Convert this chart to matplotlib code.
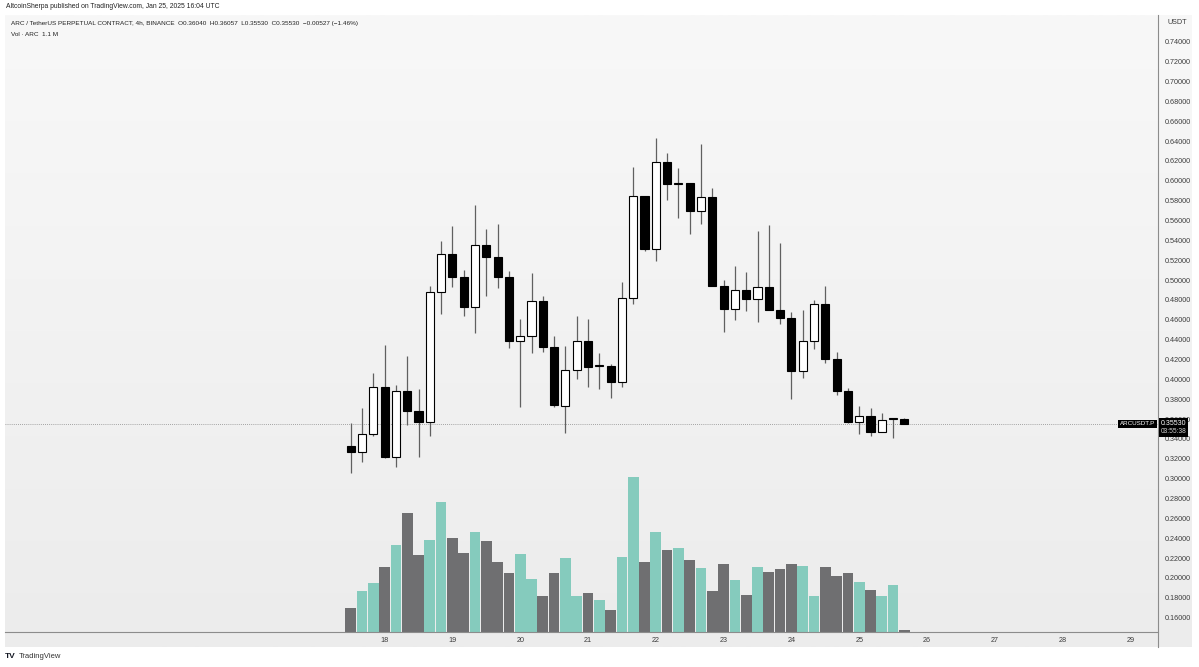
import numpy as np
import matplotlib
matplotlib.use('Agg')
import matplotlib.pyplot as plt

plt.rcParams['font.family'] = ['Liberation Sans', 'DejaVu Sans']

# 4h candles, first one is Jan 17 12:00 UTC
opens = [0.3330, 0.3265, 0.3446, 0.3920, 0.3215, 0.3880, 0.3678, 0.3567, 0.4882, 0.5259,
         0.5027, 0.4731, 0.5350, 0.5229, 0.5027, 0.4386, 0.4439, 0.4789, 0.4329, 0.3734,
         0.4094, 0.4389, 0.4131, 0.4139, 0.3976, 0.4822, 0.5846, 0.5309, 0.6185, 0.5968,
         0.5975, 0.5698, 0.5839, 0.4943, 0.4708, 0.4900, 0.4809, 0.4927, 0.4698, 0.4615,
         0.4087, 0.4389, 0.4758, 0.4202, 0.3885, 0.3573, 0.3634, 0.3473, 0.3604, 0.36040]
highs = [0.3560, 0.3710, 0.4067, 0.4346, 0.3940, 0.4235, 0.3900, 0.4943, 0.5393, 0.5547,
         0.5101, 0.5756, 0.5511, 0.5561, 0.5091, 0.4604, 0.5068, 0.4839, 0.4439, 0.4339,
         0.4638, 0.4610, 0.4268, 0.4150, 0.4983, 0.6141, 0.5850, 0.6427, 0.6276, 0.6125,
         0.5980, 0.6370, 0.5924, 0.5000, 0.5141, 0.5078, 0.5497, 0.5554, 0.5370, 0.4681,
         0.4698, 0.4799, 0.4943, 0.4272, 0.3910, 0.3734, 0.3714, 0.3664, 0.3610, 0.36057]
lows = [0.3060, 0.3170, 0.3430, 0.3210, 0.3120, 0.3540, 0.3215, 0.3426, 0.4655, 0.4933,
        0.4641, 0.4463, 0.4842, 0.4917, 0.4312, 0.3724, 0.4262, 0.4272, 0.3718, 0.3456,
        0.4000, 0.3920, 0.3900, 0.3808, 0.3926, 0.4755, 0.5295, 0.5195, 0.5806, 0.5628,
        0.5460, 0.5561, 0.4940, 0.4480, 0.4597, 0.4691, 0.4580, 0.4695, 0.4554, 0.3799,
        0.4010, 0.4305, 0.4167, 0.3842, 0.3557, 0.3449, 0.3432, 0.3470, 0.3406, 0.35530]
closes = [0.3270, 0.3446, 0.3920, 0.3215, 0.3880, 0.3678, 0.3567, 0.4882, 0.5259, 0.5027,
          0.4731, 0.5350, 0.5229, 0.5027, 0.4383, 0.4433, 0.4789, 0.4329, 0.3741, 0.4094,
          0.4389, 0.4121, 0.4146, 0.3972, 0.4822, 0.5846, 0.5309, 0.6185, 0.5968, 0.5975,
          0.5698, 0.5839, 0.4943, 0.4708, 0.4900, 0.4809, 0.4927, 0.4698, 0.4615, 0.4087,
          0.4389, 0.4758, 0.4202, 0.3885, 0.3573, 0.3634, 0.3473, 0.3590, 0.3604, 0.35530]
# volume in millions of ARC
volumes = [11.9, 20.5, 24.4, 32.5, 43.2, 59.2, 38.2, 45.9, 64.7, 46.7,
           39.5, 49.9, 45.4, 35.0, 29.4, 38.9, 26.2, 18.0, 29.5, 36.7,
           17.7, 19.2, 16.0, 11.0, 37.5, 77.2, 35.0, 49.9, 40.9, 41.9,
           35.7, 31.7, 20.4, 34.0, 25.9, 18.4, 32.5, 30.0, 31.2, 33.9,
           33.0, 18.0, 32.5, 27.7, 29.2, 25.0, 20.9, 18.0, 23.4, 1.1]

day_labels = ['18', '19', '20', '21', '22', '23', '24', '25', '26', '27', '28', '29']
price_ticks = [round(0.16 + 0.02 * k, 2) for k in range(30)]
last_price = 0.35530

W, H = 1199, 667
fig = plt.figure(figsize=(W / 100, H / 100), dpi=100)
fig.patch.set_facecolor('white')

# light grey panel behind the chart
bg = fig.add_axes([5 / W, 1 - 647 / H, (1192 - 5) / W, (647 - 15) / H])
grad = np.linspace(0, 1, 256).reshape(-1, 1)
bg.imshow(grad, aspect='auto', cmap=matplotlib.colors.LinearSegmentedColormap.from_list(
    'bg', ['#f8f8f8', '#ececec']), extent=[0, 1, 0, 1])
bg.set_axis_off()

left, right, top, bottom = 5, 1158, 15, 631.7
ax = fig.add_axes([left / W, 1 - bottom / H, (right - left) / W, (bottom - top) / H])
ax.patch.set_alpha(0)

# x position = candle index, 11.3 px per candle, index 0 at px 350.7
px = 11.3
ax.set_xlim((left - 350.7) / px, (right - 350.7) / px)
ax.set_ylim(0.74 - (bottom - 41.7) / 993, 0.74 + (41.7 - top) / 993)

vax = ax.twinx()
vax.set_ylim(0, (bottom - top) * 0.5)
vax.set_axis_off()

idx = np.arange(len(opens))
up = [c >= o for o, c in zip(opens, closes)]
vcol = ['#85cbbd' if u else '#6f6f71' for u in up]
vax.bar(idx, volumes, width=0.94, color=vcol, zorder=1)

ax.set_zorder(vax.get_zorder() + 1)
ax.vlines(idx, lows, highs, color='#606060', lw=0.9, zorder=2)
body_bot = [min(o, c) for o, c in zip(opens, closes)]
body_h = [max(abs(c - o), 0.0004) for o, c in zip(opens, closes)]
ax.bar(idx, body_h, bottom=body_bot, width=0.72,
       color=['white' if u else 'black' for u in up], edgecolor='black', lw=0.8, zorder=3)

ax.axhline(last_price, color='#8a8a8a', lw=0.6, ls=(0, (1, 1.5)), zorder=1)

ax.yaxis.tick_right()
ax.set_yticks(price_ticks)
ax.set_yticklabels(['%.5f' % p for p in price_ticks], fontsize=5.2, color='#3c3c3c')
ax.set_xticks([3 + 6 * k for k in range(len(day_labels))])
ax.set_xticklabels(day_labels, fontsize=5.2, color='#3c3c3c')
ax.tick_params(length=0, pad=5)
ax.tick_params(axis='x', pad=4)
for s in ['top', 'left']:
    ax.spines[s].set_visible(False)
ax.spines['bottom'].set_color('#8c8c8c')
ax.spines['bottom'].set_linewidth(0.8)
ax.spines['right'].set_visible(False)
fig.add_artist(plt.Line2D([right / W, right / W], [1 - 647 / H, 1 - 15 / H],
                          color='#8c8c8c', lw=0.8))

# texts
fig.text(6 / W, 1 - 7 / H, 'AltcoinSherpa published on TradingView.com, Jan 25, 2025 16:04 UTC',
         fontsize=4.85, color='#222222', va='center')
fig.text(11 / W, 1 - 23 / H,
         'ARC / TetherUS PERPETUAL CONTRACT, 4h, BINANCE  O0.36040  H0.36057  L0.35530  C0.35530  \u22120.00527 (\u22121.46%)',
         fontsize=4.6, color='#222222', va='center')
fig.text(11 / W, 1 - 34 / H, 'Vol \u00b7 ARC  1.1 M', fontsize=4.6, color='#222222', va='center')
fig.text(1168 / W, 1 - 22 / H, 'USDT', fontsize=5.2, color='#3c3c3c', va='center')

yp = 41.7 + (0.74 - last_price) * 993
fig.text(1155 / W, 1 - yp / H, 'ARCUSDT.P', fontsize=4.5, color='white', ha='right', va='center',
         bbox=dict(boxstyle='square,pad=0.25', fc='black', ec='none'))
fig.text(1161 / W, 1 - (yp - 0.5) / H, '0.35530', fontsize=5, color='white', va='center',
         bbox=dict(boxstyle='square,pad=0.25', fc='black', ec='none'))
fig.text(1161 / W, 1 - (yp + 8) / H, '03:55:38', fontsize=4.8, color='#d0d0d0', va='center',
         bbox=dict(boxstyle='square,pad=0.25', fc='black', ec='none'))

fig.text(5 / W, 1 - 657 / H, 'TV', fontsize=6, fontweight='bold', color='#131722', va='center')
fig.text(19 / W, 1 - 657 / H, 'TradingView', fontsize=5.5, color='#333333', va='center')

fig.savefig('out.png', dpi=100)
